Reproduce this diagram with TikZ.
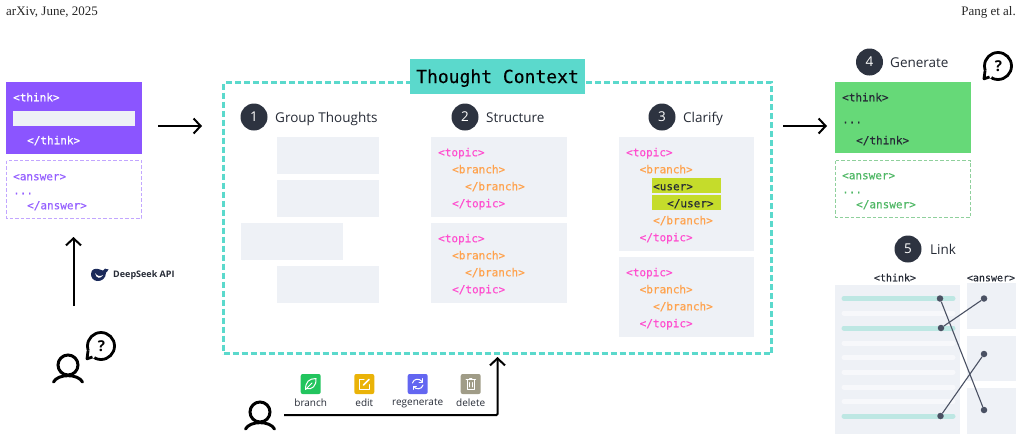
\documentclass[tikz,border=0pt]{standalone}
\usepackage{fontspec}
\setmainfont{Open Sans}
\newfontfamily\hdfont{Liberation Serif}
\newfontfamily\codefont[FakeBold=0.25]{DejaVu Sans Mono}
\usetikzlibrary{arrows.meta}
\definecolor{cPurple}{HTML}{8B55FF}
\definecolor{cPurpleD}{HTML}{C2A6FF}
\definecolor{cPurpleT}{HTML}{9560FF}
\definecolor{cLight}{HTML}{EEF1F6}
\definecolor{cTeal}{HTML}{5BD9CC}
\definecolor{cPink}{HTML}{FF4FCF}
\definecolor{cOrange}{HTML}{FFA24D}
\definecolor{cLime}{HTML}{C5DC2B}
\definecolor{cGreen}{HTML}{66D978}
\definecolor{cGreenT}{HTML}{4FB765}
\definecolor{cGreenD}{HTML}{8FD09C}
\definecolor{cDark}{HTML}{2D3340}
\definecolor{cInk}{HTML}{262B36}
\definecolor{cLine}{HTML}{4A5163}
\definecolor{cBar}{HTML}{BDE7E3}
\definecolor{cBarW}{HTML}{F7F8FB}
\definecolor{cBranch}{HTML}{22C55E}
\definecolor{cEdit}{HTML}{EAB308}
\definecolor{cRegen}{HTML}{6366F1}
\definecolor{cDelete}{HTML}{A09C87}
\definecolor{cNavy}{HTML}{1B2A5A}
\tikzset{
  code/.style={anchor=west,inner sep=0pt,text height=8.5pt,text depth=0pt,font=\codefont\fontsize{11}{11}\selectfont},
  whitecode/.style={code,text=white},
  pinkcode/.style={code,text=cPink},
  orangecode/.style={code,text=cOrange},
  purplecode/.style={code,text=cPurpleT},
  greencode/.style={code,text=cGreenT},
  inkcode/.style={code,text=cInk},
  numc/.style={circle,fill=cDark,draw=none,minimum size=27pt,inner sep=0pt,text=white,font=\fontsize{13.5}{13.5}\selectfont},
  steplabel/.style={anchor=west,inner sep=0pt,text height=11pt,text depth=0pt,text=cInk,font=\fontsize{13.5}{13.5}\selectfont},
  bigarrow/.style={line width=2pt,-{Straight Barb[length=7pt,width=15pt,line width=2pt]}},
  btn/.style={rounded corners=2pt,draw=none,minimum size=20pt,inner sep=0pt},
  btnlabel/.style={inner sep=0pt,text=cInk,font=\fontsize{10}{10}\selectfont},
  btnicon/.style={draw=white,line width=1pt,fill=none,line cap=round,line join=round},
  bar/.style={line width=5pt,line cap=round},
  linkdot/.style={circle,fill=cLine,draw=none,minimum size=6.5pt,inner sep=0pt},
  linkline/.style={draw=cLine,line width=1.1pt},
  pics/person/.style={code={
    \draw[line width=3pt,line cap=round] (0,0) circle[radius=10];
    \draw[line width=3pt,line cap=round] (-14.5,17) .. controls (-10,8.5) and (10,8.5) .. (14.5,17);
  }},
  pics/askbubble/.style={code={
    \draw[line width=2.8pt] (0,0) circle[radius=13.5];
    \fill[white] (-13,5) -- (-14,13) -- (-7,12) -- (0,0) -- cycle;
    \draw[line width=2.8pt,line join=round] (-13,5) -- (-14,12.8) -- (-8.5,11);
    \node[inner sep=0pt,font=\bfseries\fontsize{15}{15}\selectfont] at (0.5,0.5) {?};
  }},
}
\begin{document}
\begin{tikzpicture}[x=1pt,y=-1pt]
\useasboundingbox (0,0) rectangle (1022,440);
% header
\node[anchor=west,inner sep=0pt,text=black!85,font=\hdfont\fontsize{13}{13}\selectfont] (hdl) at (6,12) {arXiv, June, 2025};
\node[anchor=east,inner sep=0pt,text=black!85,font=\hdfont\fontsize{13}{13}\selectfont] (hdr) at (1016,12) {Pang et al.};
% input block
\fill[cPurple] (6,82) rectangle (142,153.5);
\fill[cLight] (13,110.5) rectangle (135,125.5);
\node[whitecode] (t1) at (13,97) {<think>};
\node[whitecode] (t2) at (27,140) {</think>};
\draw[cPurpleD,line width=1pt,dash pattern=on 3.5pt off 2pt] (6.5,160.5) rectangle (141.5,218);
\node[purplecode] (a1) at (13,176) {<answer>};
\node[purplecode] (a2) at (13,190) {...};
\node[purplecode] (a3) at (27,205) {</answer>};
\coordinate (inA) at (158,126);
\coordinate (inB) at (202,126);
\draw[bigarrow] (inA) -- (inB);
% user and API
\coordinate (upA) at (73.5,306);
\coordinate (upB) at (73.5,237);
\draw[bigarrow] (upA) -- (upB);
\fill[cNavy] (91,274) .. controls (91,268.5) and (96,268) .. (100,269.5) .. controls (103,271) and (104.5,270.5) .. (105,268.5) .. controls (106,269.5) and (108,269.5) .. (108.5,269) .. controls (108,271) and (107,272) .. (106,272.5) .. controls (106,278) and (102,281.5) .. (97,281) .. controls (93.5,280.5) and (91,278) .. (91,274) -- cycle;
\fill[white] (95,273) .. controls (97,276) and (100,277) .. (103,275) .. controls (101,279) and (96,279) .. (95,273) -- cycle;
\node[anchor=west,inner sep=0pt,text=cInk,font=\bfseries\fontsize{9}{9}\selectfont] (api) at (113,275) {DeepSeek API};
\pic at (68,365) {person};
\pic at (101,346) {askbubble};
% main frame
\node[fill=none,draw=cTeal,line width=2.2pt,dash pattern=on 6pt off 3pt,minimum width=548pt,minimum height=271pt,inner sep=0pt] (frame) at (497.5,218) {};
\node[fill=cTeal,minimum width=175pt,minimum height=35pt,inner sep=0pt,text height=13pt,text depth=0pt,text=black,font=\codefont\fontsize{18}{18}\selectfont] (title) at (497.5,76.5) {Thought Context};
% steps
\node[numc] (n1) at (254,117) {1};
\node[steplabel] (l1) at (275,117) {Group Thoughts};
\node[numc] (n2) at (465,117) {2};
\node[steplabel] (l2) at (486,117) {Structure};
\node[numc] (n3) at (662,117) {3};
\node[steplabel] (l3) at (683,117) {Clarify};
\node[numc] (n4) at (869.5,62) {4};
\node[steplabel] (l4) at (890,62) {Generate};
\node[numc] (n5) at (908,249) {5};
\node[steplabel] (l5) at (930,249) {Link};
% group blocks
\fill[cLight] (277,137) rectangle (379,174);
\fill[cLight] (277,180) rectangle (379,217);
\fill[cLight] (241,223) rectangle (343,260);
\fill[cLight] (277,266) rectangle (379,303);
% structure
\fill[cLight] (431,137) rectangle (567,217);
\fill[cLight] (431,223) rectangle (567,303);
\node[pinkcode] (s1) at (438,152) {<topic>};
\node[orangecode] (s2) at (452,169) {<branch>};
\node[orangecode] (s3) at (465,186) {</branch>};
\node[pinkcode] (s4) at (452,203) {</topic>};
\node[pinkcode] (s5) at (438,238) {<topic>};
\node[orangecode] (s6) at (452,255) {<branch>};
\node[orangecode] (s7) at (465,272) {</branch>};
\node[pinkcode] (s8) at (452,289) {</topic>};
% clarify
\fill[cLight] (618.5,137) rectangle (754,250.5);
\fill[cLight] (618.5,257) rectangle (754,336.5);
\fill[cLime] (652,178) rectangle (720.5,193);
\fill[cLime] (652,195) rectangle (720.5,210);
\node[pinkcode] (c1) at (626,152) {<topic>};
\node[orangecode] (c2) at (639.5,169) {<branch>};
\node[inkcode] (c3) at (653,186) {<user>};
\node[inkcode] (c4) at (667,203) {</user>};
\node[orangecode] (c5) at (653,220) {</branch>};
\node[pinkcode] (c6) at (639.5,237) {</topic>};
\node[pinkcode] (c7) at (626,272) {<topic>};
\node[orangecode] (c8) at (639.5,289) {<branch>};
\node[orangecode] (c9) at (653,306) {</branch>};
\node[pinkcode] (c10) at (639.5,323) {</topic>};
% generate
\coordinate (outA) at (783,126);
\coordinate (outB) at (827,126);
\draw[bigarrow] (outA) -- (outB);
\fill[cGreen] (835,82) rectangle (971,153);
\node[inkcode] (g1) at (842,97) {<think>};
\node[inkcode] (g2) at (842,119) {...};
\node[inkcode] (g3) at (856,140) {</think>};
\draw[cGreenD,line width=1pt,dash pattern=on 3.5pt off 2pt] (835.5,160.5) rectangle (970.5,217);
\node[greencode] (h1) at (842,175) {<answer>};
\node[greencode] (h2) at (842,189) {...};
\node[greencode] (h3) at (856,204) {</answer>};
\pic at (998,66) {askbubble};
% link
\node[anchor=center,inner sep=0pt,text=cInk,text height=8.5pt,text depth=0pt,font=\codefont\fontsize{10}{10}\selectfont] (lt) at (895,277) {<think>};
\node[anchor=center,inner sep=0pt,text=cInk,text height=8.5pt,text depth=0pt,font=\codefont\fontsize{10}{10}\selectfont] (la) at (991,277) {<answer>};
\fill[cLight] (835,285) rectangle (960,434);
\fill[cLight] (967,283) rectangle (1016,329);
\fill[cLight] (967,336) rectangle (1016,381);
\fill[cLight] (967,388) rectangle (1016,434);
\foreach \yy in {313,343,357.5,372,387,401.5} \draw[bar,cBarW] (844,\yy) -- (953,\yy);
\foreach \yy in {298.5,328,416} \draw[bar,cBar] (844,\yy) -- (953,\yy);
\node[linkdot] (d1) at (940,298.5) {};
\node[linkdot] (d2) at (941,328) {};
\node[linkdot] (d3) at (940.5,416) {};
\node[linkdot] (e1) at (984,298.5) {};
\node[linkdot] (e2) at (984,354) {};
\node[linkdot] (e3) at (984,410) {};
\draw[linkline] (d1) -- (e3);
\draw[linkline] (d2) -- (e1);
\draw[linkline] (d3) -- (e2);
% buttons
\node[btn,fill=cBranch] (b1) at (310.7,384) {};
\node[btn,fill=cEdit] (b2) at (364.3,384) {};
\node[btn,fill=cRegen] (b3) at (417.7,384) {};
\node[btn,fill=cDelete] (b4) at (470.7,384) {};
\draw[btnicon] (305.5,389.5) .. controls (305.5,382) and (309,378.5) .. (316,378.5) .. controls (316.5,386) and (312,390) .. (306.5,388.5);
\draw[btnicon,line width=.8pt] (306,389) -- (312,383);
\draw[btnicon] (364,379) -- (359.5,379) -- (359.5,389) -- (369.5,389) -- (369.5,384.5);
\draw[btnicon,line width=1.6pt] (363.5,385) -- (369,379.5);
\draw[btnicon] (412.5,383) .. controls (413.5,378.5) and (419.5,378) .. (422,381.5);
\draw[btnicon] (423,385) .. controls (422,389.5) and (416,390) .. (413.5,386.5);
\draw[btnicon,line width=.8pt] (422.5,378.5) -- (422.5,382) -- (419,382);
\draw[btnicon,line width=.8pt] (413,389.5) -- (413,386) -- (416.5,386);
\draw[btnicon] (466,379.5) -- (475.5,379.5);
\draw[btnicon,line width=.8pt] (467,380) -- (467,389.5) -- (474.5,389.5) -- (474.5,380);
\draw[btnicon,line width=.8pt] (469.5,378) -- (472,378);
\draw[btnicon,line width=.7pt] (469.5,382.5) -- (469.5,387) (472,382.5) -- (472,387);
\node[btnlabel] (bl1) at (310.7,403) {branch};
\node[btnlabel] (bl2) at (364.3,403) {edit};
\node[btnlabel] (bl3) at (417.7,403) {regenerate};
\node[btnlabel] (bl4) at (470.7,403) {delete};
\pic at (260,412) {person};
\coordinate (edA) at (284,415);
\coordinate (edB) at (497.5,357);
\draw[bigarrow,rounded corners=1pt] (edA) -| (edB);
\end{tikzpicture}
\end{document}
